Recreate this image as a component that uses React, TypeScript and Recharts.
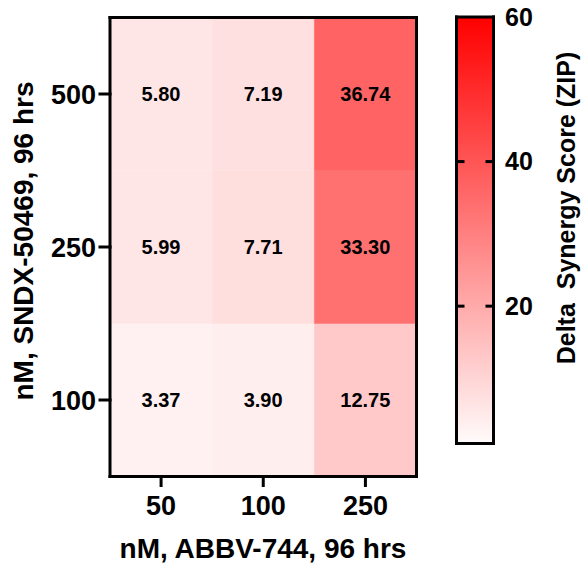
import { BarChart, Bar, XAxis, YAxis, LabelList, Cell, Label } from 'recharts'

const FONT = '"Liberation Sans", Arial, Helvetica, sans-serif'

// x: ABBV-744 dose, y: SNDX-50469 dose (bottom to top)
const abbvDoses = ['50', '100', '250']
const sndxDoses = ['100', '250', '500']
const zipAt100 = [3.37, 3.9, 12.75]
const zipAt250 = [5.99, 7.71, 33.3]
const zipAt500 = [5.8, 7.19, 36.74]

const scaleMin = 1
const scaleMax = 60
const scaleTicks = [20, 40, 60]

const rows = [zipAt100, zipAt250, zipAt500]
const data = abbvDoses.map((dose, i) => ({
  dose,
  r0: 1, r1: 1, r2: 1,
  z0: rows[0][i], z1: rows[1][i], z2: rows[2][i],
}))
const scaleData = [{ name: 'scale', span: [scaleMin, scaleMax] }]

function heat(v: number) {
  const g = Math.round(255 * (1 - v / scaleMax))
  return `rgb(255,${g},${g})`
}

const bold = { fill: '#000', fontWeight: 700, fontFamily: FONT }
const blackLine = { stroke: '#000', strokeWidth: 3, strokeLinecap: 'square' as const }
const noText = () => ''

// colour bar plot box inside its own chart
const BAR_LEFT = 16.5
const BAR_WIDTH = 37
const MARK = 8

// tick of the colour bar: label outside, short marks inside both edges
function ScaleTick(props: any) {
  const { x, y, payload } = props
  const right = BAR_LEFT + BAR_WIDTH
  return (
    <g>
      {payload.value < scaleMax && (
        <>
          <line x1={BAR_LEFT} x2={BAR_LEFT + MARK} y1={y} y2={y} stroke="#000" strokeWidth={3} />
          <line x1={right - MARK} x2={right} y1={y} y2={y} stroke="#000" strokeWidth={3} />
        </>
      )}
      <text x={x} y={y} dy="0.355em" textAnchor="start" fontSize={25} {...bold}>{payload.value}</text>
    </g>
  )
}

// axes of size 0 are not drawn by recharts, so the frame-only axes get 1px and mirror
function Heatmap() {
  return (
    <BarChart width={440} height={563} data={data} margin={{ top: 17.5, right: 23.5, bottom: 0, left: 0 }} barCategoryGap={0} barGap={0}>
      {rows.map((vals, r) => (
        <Bar key={r} dataKey={`r${r}`} stackId="cells" isAnimationActive={false}>
          {vals.map((v, i) => <Cell key={i} fill={heat(v)} stroke={heat(v)} strokeWidth={0.5} />)}
          <LabelList dataKey={`z${r}`} position="center" formatter={(v: number) => v.toFixed(2)} fontSize={20} {...bold} />
        </Bar>
      ))}
      <XAxis dataKey="dose" height={86.5} axisLine={blackLine} tickLine={blackLine} tickSize={9} tickMargin={10} tick={{ ...bold, fontSize: 27 }}>
        <Label content={() => (
          <text x={263} y={558} textAnchor="middle" fontSize={28} {...bold}>nM, ABBV-744, 96 hrs</text>
        )} />
      </XAxis>
      <XAxis xAxisId="top" orientation="top" mirror dataKey="dose" height={1} axisLine={blackLine} tickLine={false} tickFormatter={noText} />
      <YAxis type="number" domain={[0, 3]} ticks={sndxDoses.map((_, i) => i + 0.5)} tickFormatter={(v: number) => sndxDoses[Math.floor(v)]}
        width={110} axisLine={blackLine} tickLine={blackLine} tickSize={10} tickMargin={4} tick={{ ...bold, fontSize: 27 }}>
        <Label content={() => (
          <text x={33} y={241} transform="rotate(-90 33 241)" textAnchor="middle" fontSize={28} {...bold}>nM, SNDX-50469, 96 hrs</text>
        )} />
      </YAxis>
      <YAxis yAxisId="right" orientation="right" mirror type="number" domain={[0, 3]} width={1} axisLine={blackLine} tickLine={false} tickFormatter={noText} />
    </BarChart>
  )
}

function ColorScale() {
  return (
    <BarChart width={142} height={563} data={scaleData} margin={{ top: 17, right: 0, bottom: 119.5, left: BAR_LEFT }} barCategoryGap={0}>
      <defs>
        <linearGradient id="zipGrad" x1="0" y1="1" x2="0" y2="0">
          <stop offset="0" stopColor={heat(scaleMin)} />
          <stop offset="1" stopColor={heat(scaleMax)} />
        </linearGradient>
      </defs>
      <Bar dataKey="span" fill="url(#zipGrad)" isAnimationActive={false} />
      <XAxis dataKey="name" mirror height={1} axisLine={blackLine} tickLine={false} tickFormatter={noText} />
      <XAxis xAxisId="top" orientation="top" mirror dataKey="name" height={1} axisLine={blackLine} tickLine={false} tickFormatter={noText} />
      <YAxis orientation="right" domain={[scaleMin, scaleMax]} ticks={scaleTicks} width={142 - BAR_LEFT - BAR_WIDTH} axisLine={false} tickLine={false}
        tickMargin={5.5} tick={<ScaleTick />}>
        <Label content={() => (
          <text x={135} y={208} transform="rotate(-90 135 208)" textAnchor="middle" fontSize={25} style={{ whiteSpace: 'pre' }} {...bold}>
            Delta  Synergy Score (ZIP)
          </text>
        )} />
      </YAxis>
      <YAxis yAxisId="edgeL" orientation="left" mirror width={1} domain={[scaleMin, scaleMax]} axisLine={blackLine} tickLine={false} tickFormatter={noText} />
      <YAxis yAxisId="edgeR" orientation="right" mirror width={1} domain={[scaleMin, scaleMax]} axisLine={blackLine} tickLine={false} tickFormatter={noText} />
    </BarChart>
  )
}

export default function App() {
  return (
    <div style={{ position: 'absolute', left: 0, top: 0, width: 582, height: 563, background: '#fff', fontFamily: FONT }}>
      <div style={{ position: 'absolute', left: 0, top: 0 }}>
        <Heatmap />
      </div>
      <div style={{ position: 'absolute', left: 440, top: 0 }}>
        <ColorScale />
      </div>
    </div>
  )
}
